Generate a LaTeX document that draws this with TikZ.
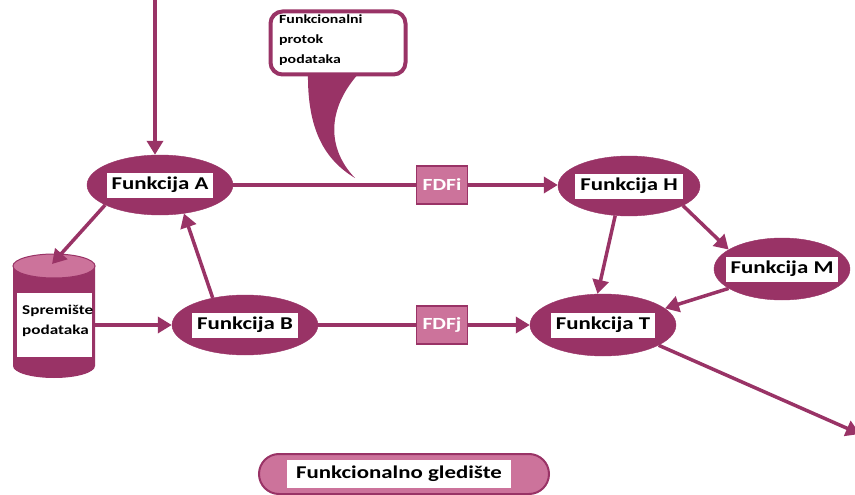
\documentclass[tikz,border=0pt]{standalone}
\usepackage{fontspec}
\setmainfont{Carlito}[FakeStretch=1.27]
\usetikzlibrary{arrows.meta,shapes.geometric}
\definecolor{dk}{RGB}{153,51,102}
\definecolor{pk}{RGB}{204,115,155}
\tikzset{
  fel/.style={ellipse,fill=dk,draw=dk,minimum width=146pt,minimum height=60pt,inner sep=0pt},
  lab/.style={fill=white,inner xsep=5pt,inner ysep=0pt,minimum height=25pt,font=\fontsize{18}{20}\selectfont\bfseries,text=black},
  fdf/.style={rectangle,fill=pk,draw=dk,line width=1.5pt,minimum width=51pt,minimum height=38pt,font=\fontsize{17}{20}\selectfont\bfseries,text=white},
  ln/.style={draw=dk,line width=3.5pt},
  arr/.style={draw=dk,line width=3.5pt,-{Triangle[length=14pt,width=16pt]}},
}
\begin{document}
\begin{tikzpicture}[x=1pt,y=-1pt]
\useasboundingbox (0,0) rectangle (855,495);
% ellipses
\node[fel] (A) at (160,185) {};
\node[lab] (Al) at (A) {Funkcija A};
\node[fel] (B) at (245,325) {};
\node[lab] (Bl) at (B) {Funkcija B};
\node[fel,minimum width=142pt] (H) at (629,186) {};
\node[lab] (Hl) at (H) {Funkcija H};
\node[fel,minimum width=136pt,minimum height=62pt] (M) at (782,269) {};
\node[lab] (Ml) at (M) {Funkcija M};
\node[fel,minimum height=62pt] (T) at (603,325) {};
\node[lab] (Tl) at (T) {Funkcija T};
% FDF boxes
\node[fdf] (F1) at (442,185) {FDFi};
\node[fdf] (F2) at (442,325) {FDFj};
% cylinder
\fill[dk] (13,266) -- (13,366) arc[start angle=180,end angle=0,x radius=41,y radius=12] -- (95,266) -- cycle;
\draw[dk,line width=1pt,fill=pk] (54,266) ellipse[x radius=41,y radius=12];
\node[inner sep=0pt,minimum width=82pt,minimum height=122pt] (S) at (54,316) {};
\node[fill=white,minimum width=75pt,minimum height=64pt,inner sep=0pt] (Sb) at (54.5,325) {};
\node[align=left,inner sep=0pt,font=\fontsize{13.5}{20}\selectfont\bfseries,anchor=west] (Sl) at (22,321) {Spremište\\podataka};
\coordinate (Stop) at (52,264);
% callout
\fill[dk] (308,72) .. controls (307,130) and (325,160) .. (355,178) .. controls (328,150) and (325,110) .. (360,72) -- cycle;
\node[draw=dk,line width=4pt,fill=white,rounded corners=12pt,minimum width=135pt,minimum height=63pt] (C) at (338,43) {};
\node[align=left,anchor=north west,inner sep=0pt,font=\fontsize{12.5}{20}\selectfont\bfseries] (Cl) at (279,15) {Funkcionalni\\protok\\podataka};
% bottom pill
\node[fill=pk,draw=dk,line width=2pt,rounded corners=20pt,minimum width=290pt,minimum height=40pt] (P) at (404,474) {};
\node[lab,minimum width=224pt,minimum height=28pt] (Pl) at (399,474) {Funkcionalno gledište};
% connectors
\coordinate (top) at (155,0);
\draw[arr] (top) -- (top |- A.north);
\draw[ln] (A.east) -- (F1.west);
\draw[arr] (F1.east) -- (F1.east -| H.west);
\draw[ln] (B.east) -- (F2.west);
\draw[arr] (F2.east) -- (T.west);
\draw[arr] (S.east |- B.west) -- (B.west);
\draw[arr] (B.140) -- (A.-50);
\draw[arr] (A.-160) -- (Stop);
\draw[arr] (H.-115) -- (T.100);
\draw[arr] (H.-20) -- (M.160);
\draw[arr] (M.-160) -- (T.15);
\coordinate (out) at (860,434);
\draw[arr] (T.-20) -- (out);
\end{tikzpicture}
\end{document}
